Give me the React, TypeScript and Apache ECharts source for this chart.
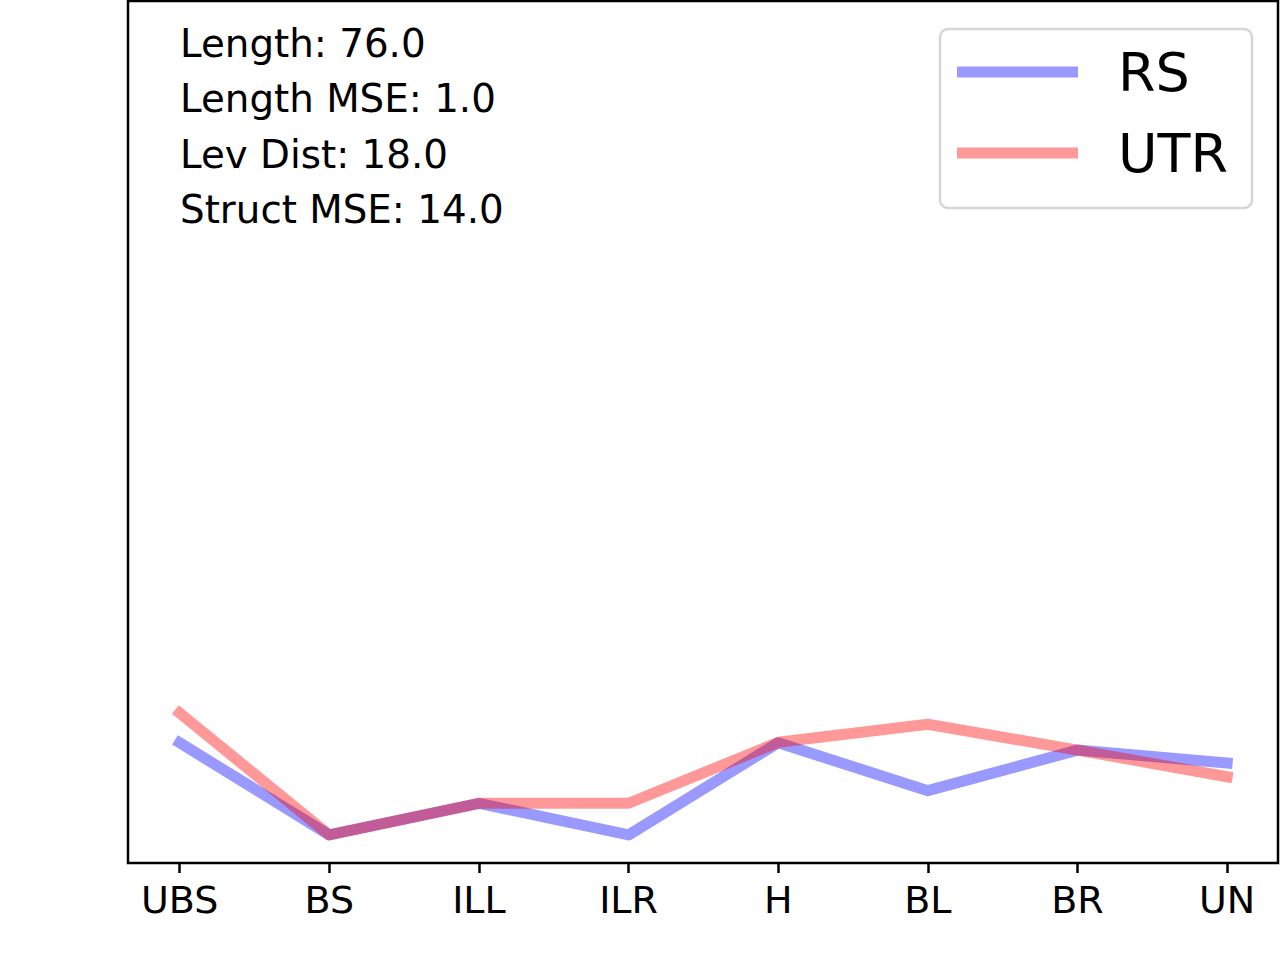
import React, { useEffect, useRef } from "react";
import * as echarts from "echarts";

const categories = ["UBS", "BS", "ILL", "ILR", "H", "BL", "BR", "UN"];
const rsValues = [13.95, 3.25, 6.93, 3.25, 13.95, 8.39, 13.1, 11.6];
const utrValues = [17.4, 3.25, 6.93, 6.93, 14.0, 16.1, 13.1, 10.0];
const seriesNames = ["RS", "UTR"];
const annotations = ["Length: 76.0", "Length MSE: 1.0", "Lev Dist: 18.0", "Struct MSE: 14.0"];

const FONT = "'DejaVu Sans', sans-serif";

export default function App() {
  const ref = useRef<HTMLDivElement>(null);
  useEffect(() => {
    if (!ref.current) return;
    const chart = echarts.init(ref.current, undefined, { renderer: "svg" });
    const idx = categories.map((_, i) => i);
    const toPairs = (vals: number[]) => vals.map((v, i) => [i, v]);
    chart.setOption({
      animation: false,
      backgroundColor: "#ffffff",
      grid: {
        left: 128,
        right: 2,
        top: 1,
        bottom: 97,
        show: true,
        borderColor: "#000000",
        borderWidth: 2.5,
        backgroundColor: "transparent",
      },
      xAxis: {
        type: "value",
        min: -0.345,
        max: 7.34,
        axisLine: { show: false },
        splitLine: { show: false },
        axisTick: {
          show: true,
          customValues: idx,
          length: 10,
          lineStyle: { color: "#000", width: 2.5 },
        },
        axisLabel: {
          show: true,
          customValues: idx,
          formatter: (v: number) => categories[Math.round(v)] ?? "",
          fontSize: 38,
          fontFamily: FONT,
          color: "#000",
          margin: 18,
        },
      },
      yAxis: {
        type: "value",
        min: 0,
        max: 100,
        axisLine: { show: false },
        axisTick: { show: false },
        axisLabel: { show: false },
        splitLine: { show: false },
      },
      legend: {
        data: seriesNames,
        orient: "vertical",
        left: 940,
        top: 29,
        icon: "rect",
        itemWidth: 121,
        itemHeight: 11,
        itemGap: 21,
        padding: [13, 24, 25, 17],
        borderColor: "#d6d6d6",
        borderWidth: 2.5,
        borderRadius: 8,
        backgroundColor: "rgba(255,255,255,0.8)",
        textStyle: {
          fontSize: 54,
          fontFamily: FONT,
          color: "#000",
          lineHeight: 60,
          padding: [0, 0, 0, 35],
        },
      },
      graphic: annotations.map((t, i) => ({
        type: "text",
        x: 180,
        y: 43.5 + i * 55.3,
        style: {
          text: t,
          fontSize: 38.8,
          fontFamily: FONT,
          fill: "#000",
          align: "left",
          verticalAlign: "middle",
        },
      })),
      series: [
        {
          name: seriesNames[0],
          type: "line",
          data: toPairs(rsValues),
          symbol: "none",
          showSymbol: false,
          color: "rgba(0,0,255,0.4)",
          lineStyle: { width: 11, color: "rgba(0,0,255,0.4)", cap: "square", join: "round" },
          itemStyle: { color: "rgba(0,0,255,0.4)" },
        },
        {
          name: seriesNames[1],
          type: "line",
          data: toPairs(utrValues),
          symbol: "none",
          showSymbol: false,
          color: "rgba(255,0,0,0.4)",
          lineStyle: { width: 11, color: "rgba(255,0,0,0.4)", cap: "square", join: "round" },
          itemStyle: { color: "rgba(255,0,0,0.4)" },
        },
      ],
    });
    return () => chart.dispose();
  }, []);
  return (
    <div
      ref={ref}
      style={{ position: "fixed", left: 0, top: 0, width: 1280, height: 960, background: "#fff" }}
    />
  );
}
